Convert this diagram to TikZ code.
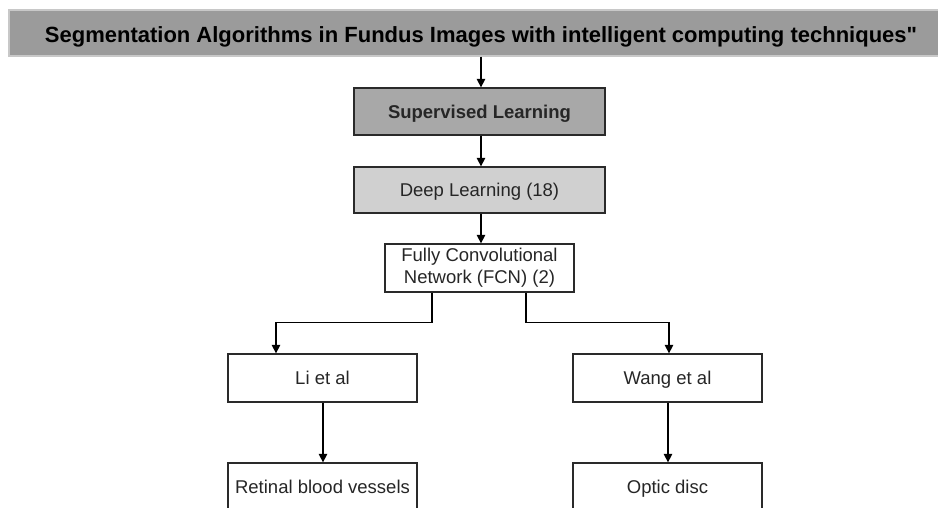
\documentclass[tikz,border=0pt]{standalone}
\usepackage{fontspec}
\setmainfont{Liberation Sans}[Ligatures=TeXOff]
\usetikzlibrary{arrows.meta,calc}

\definecolor{titlegray}{HTML}{9B9B9B}
\definecolor{titleedge}{HTML}{C8C8C8}
\definecolor{supgray}{HTML}{A8A8A8}
\definecolor{deepgray}{HTML}{D0D0D0}
\definecolor{edgedark}{HTML}{2A2A2A}

\tikzset{
  box/.style={draw=edgedark, line width=1.3pt, rectangle, inner sep=0pt,
    minimum width=189pt, minimum height=48pt, align=center,
    font=\fontsize{18.5}{22}\selectfont, text=black!85},
  oneline/.style={text height=15pt, text depth=1.5pt},
  arr/.style={draw=black, line width=1.3pt,
    -{Triangle[width=8.5pt,length=8.5pt]}}
}

\begin{document}
\begin{tikzpicture}[x=1pt,y=-1pt]
\useasboundingbox (0,0) rectangle (938,507);
\clip (0,0) rectangle (938,507);

% heading band
\node[box, draw=titleedge, fill=titlegray, minimum width=944pt, minimum height=46pt,
  text height=18pt, text depth=0pt,
  font=\bfseries\fontsize{22}{24}\selectfont, text=black] (title) at (481,33)
  {Segmentation Algorithms in Fundus Images with intelligent computing techniques"};

% main chain
\node[box, oneline, fill=supgray, minimum width=251pt, minimum height=47pt,
  font=\bfseries\fontsize{18.5}{22}\selectfont] (sup) at (479.5,111.5) {Supervised Learning};
\node[box, oneline, fill=deepgray, minimum width=251pt, minimum height=46pt] (deep) at (479.5,190) {Deep Learning (18)};
\node[box, fill=white] (fcn) at (479.5,268) {Fully Convolutional\\Network (FCN) (2)};

% branches
\node[box, oneline, fill=white] (li) at (322.5,378) {Li et al};
\node[box, oneline, fill=white] (wang) at (667.5,378) {Wang et al};
\node[box, oneline, fill=white] (ret) at (322.5,487) {Retinal blood vessels};
\node[box, oneline, fill=white] (optic) at (667.5,487) {Optic disc};

% connectors
\draw[arr] (title.south -| 481,0) -- (sup.north -| 481,0);
\draw[arr] (sup.south -| 481,0) -- (deep.north -| 481,0);
\draw[arr] (deep.south -| 481,0) -- (fcn.north -| 481,0);
\draw[arr] ([xshift=-47.5pt]fcn.south) -- ++(0,30) -| ([xshift=-46.5pt]li.north);
\draw[arr] ([xshift=46.5pt]fcn.south) -- ++(0,30) -| ([xshift=1.5pt]wang.north);
\draw[arr] ([xshift=0.5pt]li.south) -- ([xshift=0.5pt]ret.north);
\draw[arr] ([xshift=0.5pt]wang.south) -- ([xshift=0.5pt]optic.north);
\end{tikzpicture}
\end{document}
